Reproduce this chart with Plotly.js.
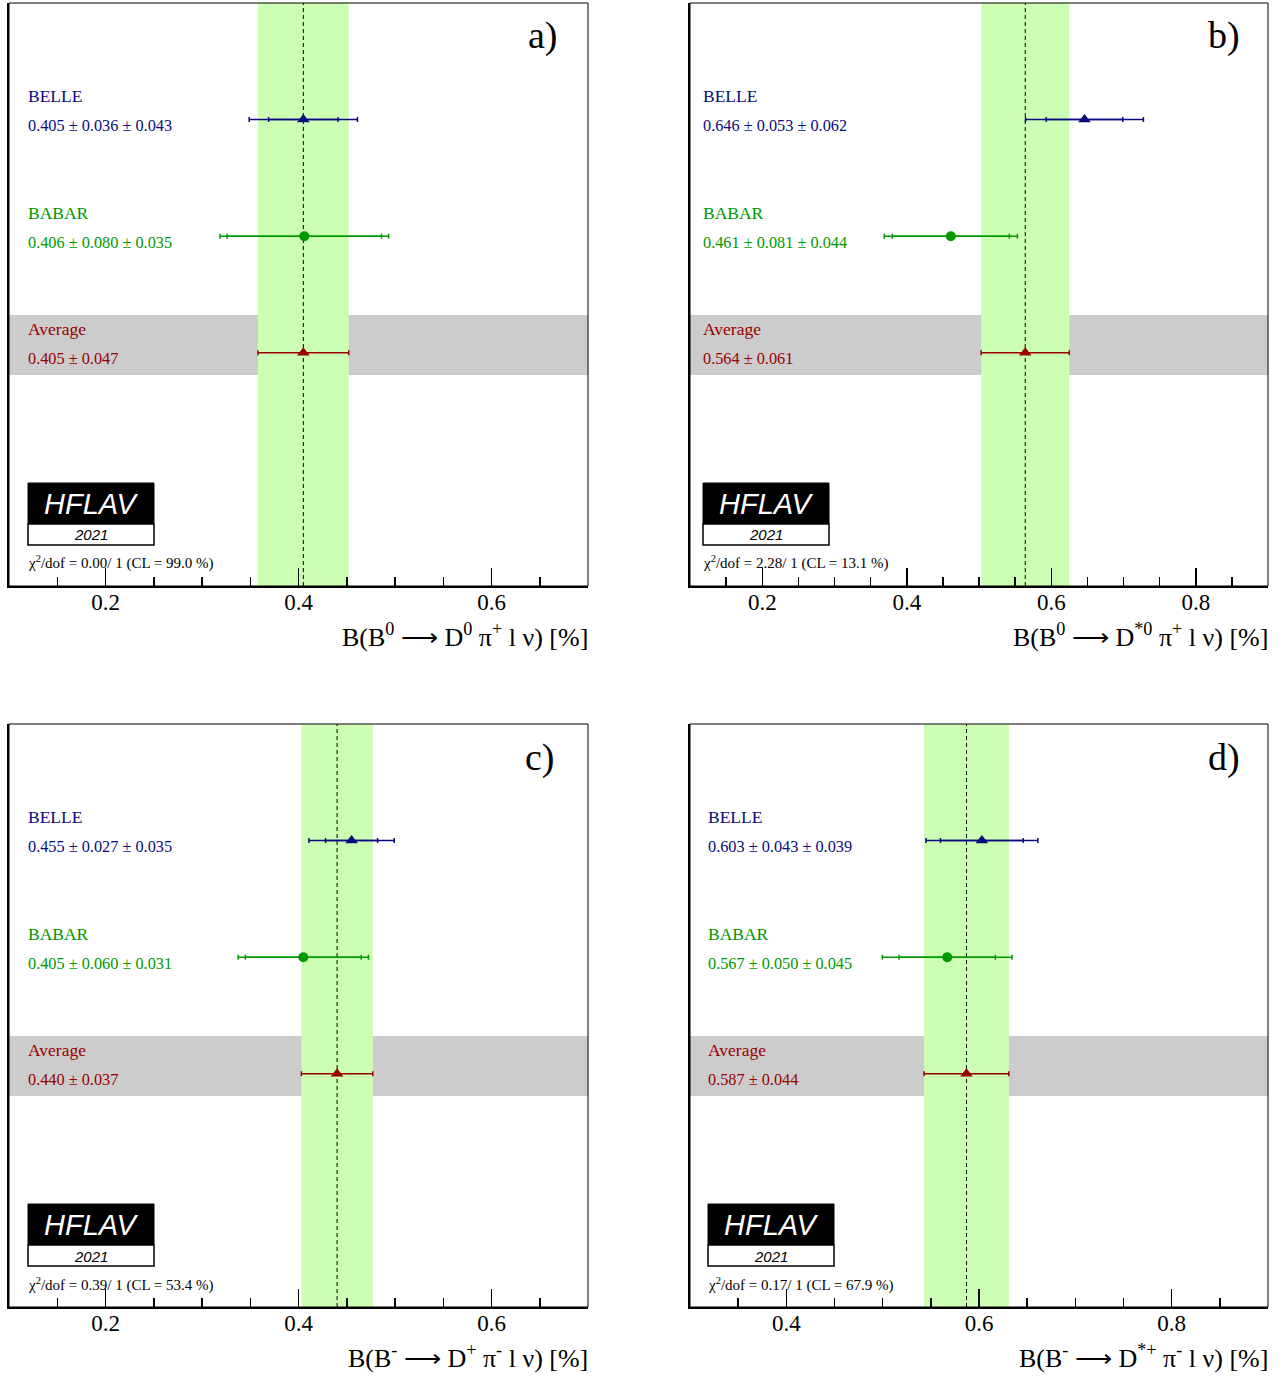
<!DOCTYPE html>
<html>
<head>
<meta charset="utf-8">
<script src="https://cdn.plot.ly/plotly-3.0.1.min.js"></script>
<style>html,body{margin:0;padding:0;background:#fff;}#chart{width:1288px;height:1376px;}</style>
</head>
<body>
<div id="chart"></div>
<script>
// ---- data ----
const panelLabels = ['a)', 'b)', 'c)', 'd)'];
const belleVal  = [0.405, 0.646, 0.455, 0.603];
const belleStat = [0.036, 0.053, 0.027, 0.043];
const belleSyst = [0.043, 0.062, 0.035, 0.039];
const babarVal  = [0.406, 0.461, 0.405, 0.567];
const babarStat = [0.080, 0.081, 0.060, 0.050];
const babarSyst = [0.035, 0.044, 0.031, 0.045];
const avgVal    = [0.405, 0.564, 0.440, 0.587];
const avgErr    = [0.047, 0.061, 0.037, 0.044];
const chi2      = ['0.00', '2.28', '0.39', '0.17'];
const clPct     = ['99.0', '13.1', '53.4', '67.9'];
const xTitles = [
  'B(B<sup>0</sup> \u27f6 D<sup>0</sup> \u03c0<sup>+</sup> l \u03bd) [%]',
  'B(B<sup>0</sup> \u27f6 D<sup>*0</sup> \u03c0<sup>+</sup> l \u03bd) [%]',
  'B(B<sup>-</sup> \u27f6 D<sup>+</sup> \u03c0<sup>-</sup> l \u03bd) [%]',
  'B(B<sup>-</sup> \u27f6 D<sup>*+</sup> \u03c0<sup>-</sup> l \u03bd) [%]'
];
const expNames = ['BELLE', 'BABAR', 'Average'];
const yPos = [0.2, 0.4, 0.6];

// ---- layout geometry ----
const W = 1288, H = 1376;
const xRanges = [[0.1, 0.7], [0.1, 0.9], [0.1, 0.7], [0.3, 0.9]];
const xPix = [[9, 588], [690, 1268], [9, 588], [690, 1268]];
const yPix = [[3, 586], [3, 586], [724, 1307], [724, 1307]];
const labelX = [28, 703, 28, 708];
const cornerX = [560, 1242, 557, 1242];
const titleY = [636, 636, 1356, 1356];

const colBelle = '#0a0a80', colBabar = '#009900', colAvg = '#990000';
const serif = 'Liberation Serif, Times New Roman, serif';

const traces = [];
const layout = {
  width: W, height: H, margin: {l: 0, r: 0, t: 0, b: 0},
  paper_bgcolor: '#fff', plot_bgcolor: '#fff', showlegend: false,
  shapes: [], annotations: [], font: {family: serif, color: '#000'}
};

function tot(a, b) { return Math.sqrt(a * a + b * b); }

for (let i = 0; i < 4; i++) {
  const n = i + 1;
  const xa = 'x' + (n === 1 ? '' : n), ya = 'y' + (n === 1 ? '' : n);
  const xk = 'xaxis' + (n === 1 ? '' : n), yk = 'yaxis' + (n === 1 ? '' : n);
  const pw = xPix[i][1] - xPix[i][0], ph = yPix[i][1] - yPix[i][0];
  const fx = px => (px - xPix[i][0]) / pw;      // absolute page x -> x domain fraction
  const fy = ry => 1 - ry / ph;                 // offset below panel top -> y domain fraction

  layout[xk] = {
    domain: [xPix[i][0] / W, xPix[i][1] / W], anchor: ya, range: xRanges[i],
    dtick: 0.2, tick0: 0, ticks: 'inside', ticklen: 18, tickwidth: 1.5, tickcolor: '#000',
    minor: {dtick: 0.05, tick0: 0, ticks: 'inside', ticklen: 9, tickwidth: 1.5, tickcolor: '#000', showgrid: false},
    showgrid: false, zeroline: false, showline: true, linewidth: 2, linecolor: '#000',
    tickfont: {family: serif, size: 23, color: '#000'}, tickformat: '.1f', ticklabelstandoff: -6, fixedrange: true
  };
  layout[yk] = {
    domain: [1 - yPix[i][1] / H, 1 - yPix[i][0] / H], anchor: xa, range: [1, 0],
    showticklabels: false, ticks: '', showgrid: false, zeroline: false,
    showline: true, linewidth: 2, linecolor: '#000', fixedrange: true
  };

  // gray band for average
  layout.shapes.push({type: 'rect', xref: xa + ' domain', yref: ya, x0: 0, x1: 1, y0: 0.535, y1: 0.638,
    fillcolor: '#cccccc', line: {width: 0}, layer: 'below'});
  // green average band
  layout.shapes.push({type: 'rect', xref: xa, yref: ya + ' domain', x0: avgVal[i] - avgErr[i], x1: avgVal[i] + avgErr[i],
    y0: 0, y1: 1, fillcolor: '#ccffb3', line: {width: 0}, layer: 'below'});
  // dashed average line
  layout.shapes.push({type: 'line', xref: xa, yref: ya + ' domain', x0: avgVal[i], x1: avgVal[i], y0: 0, y1: 1,
    line: {color: '#000', width: 1, dash: '4px,3px'}, layer: 'below'});
  // frame
  layout.shapes.push({type: 'rect', xref: xa + ' domain', yref: ya + ' domain', x0: 0, x1: 1, y0: 0, y1: 1,
    line: {color: '#000', width: 1}, fillcolor: 'rgba(0,0,0,0)', layer: 'above'});

  // HFLAV logo
  layout.shapes.push({type: 'rect', xref: xa + ' domain', yref: ya + ' domain',
    x0: fx(labelX[i]), x1: fx(labelX[i] + 126), y0: fy(521), y1: fy(480),
    fillcolor: '#000', line: {color: '#000', width: 1}, layer: 'above'});
  layout.shapes.push({type: 'rect', xref: xa + ' domain', yref: ya + ' domain',
    x0: fx(labelX[i]), x1: fx(labelX[i] + 126), y0: fy(542), y1: fy(521),
    fillcolor: '#fff', line: {color: '#000', width: 1.5}, layer: 'above'});
  layout.annotations.push({xref: xa + ' domain', yref: ya + ' domain', x: fx(labelX[i] + 63), y: fy(501),
    text: '<i>HFLAV</i>', showarrow: false, xanchor: 'center', yanchor: 'middle',
    font: {family: 'Liberation Sans, Arial, sans-serif', size: 29, color: '#fff'}});
  layout.annotations.push({xref: xa + ' domain', yref: ya + ' domain', x: fx(labelX[i] + 63), y: fy(532),
    text: '<i>2021</i>', showarrow: false, xanchor: 'center', yanchor: 'middle',
    font: {family: 'Liberation Sans, Arial, sans-serif', size: 15, color: '#000'}});
  // chi2 text
  layout.annotations.push({xref: xa + ' domain', yref: ya + ' domain', x: fx(labelX[i]), y: fy(560), xshift: -2,
    text: '\u03c7<sup>2</sup>/dof = ' + chi2[i] + '/ 1 (CL = ' + clPct[i] + ' %)', showarrow: false,
    xanchor: 'left', yanchor: 'middle', font: {family: serif, size: 15, color: '#000'}});
  // panel corner label
  layout.annotations.push({xref: xa + ' domain', yref: ya + ' domain', x: fx(cornerX[i]), y: fy(33),
    text: panelLabels[i], showarrow: false, xanchor: 'right', yanchor: 'middle',
    font: {family: serif, size: 38, color: '#000'}});
  // x axis title
  layout.annotations.push({xref: xa + ' domain', yref: 'paper', x: 1, y: 1 - titleY[i] / H, xshift: 2,
    text: xTitles[i], showarrow: false, xanchor: 'right', yanchor: 'middle',
    font: {family: serif, size: 26, color: '#000'}});

  // measurement labels
  const cols = [colBelle, colBabar, colAvg];
  const valTxt = [
    belleVal[i].toFixed(3) + ' \u00b1 ' + belleStat[i].toFixed(3) + ' \u00b1 ' + belleSyst[i].toFixed(3),
    babarVal[i].toFixed(3) + ' \u00b1 ' + babarStat[i].toFixed(3) + ' \u00b1 ' + babarSyst[i].toFixed(3),
    avgVal[i].toFixed(3) + ' \u00b1 ' + avgErr[i].toFixed(3)
  ];
  for (let k = 0; k < 3; k++) {
    layout.annotations.push({xref: xa + ' domain', yref: ya, x: fx(labelX[i]), y: yPos[k] - 0.04, xshift: -2,
      text: expNames[k], showarrow: false, xanchor: 'left', yanchor: 'middle',
      font: {family: serif, size: 17.5, color: cols[k]}});
    layout.annotations.push({xref: xa + ' domain', yref: ya, x: fx(labelX[i]), y: yPos[k] + 0.01, xshift: -2,
      text: valTxt[k], showarrow: false, xanchor: 'left', yanchor: 'middle',
      font: {family: serif, size: 16.3, color: cols[k]}});
  }

  // stat-only error bars (inner caps)
  traces.push({type: 'scatter', mode: 'markers', xaxis: xa, yaxis: ya,
    x: [belleVal[i]], y: [yPos[0]], marker: {color: 'rgba(0,0,0,0)', size: 1},
    error_x: {type: 'data', array: [belleStat[i]], color: colBelle, thickness: 1.5, width: 2.5}, hoverinfo: 'skip'});
  traces.push({type: 'scatter', mode: 'markers', xaxis: xa, yaxis: ya,
    x: [babarVal[i]], y: [yPos[1]], marker: {color: 'rgba(0,0,0,0)', size: 1},
    error_x: {type: 'data', array: [babarStat[i]], color: colBabar, thickness: 1.5, width: 2.5}, hoverinfo: 'skip'});
  // total error bars with markers
  traces.push({type: 'scatter', mode: 'markers', xaxis: xa, yaxis: ya,
    x: [belleVal[i]], y: [yPos[0]], marker: {color: colBelle, size: 11, symbol: 'triangle-up'},
    error_x: {type: 'data', array: [tot(belleStat[i], belleSyst[i])], color: colBelle, thickness: 1.5, width: 2.5}});
  traces.push({type: 'scatter', mode: 'markers', xaxis: xa, yaxis: ya,
    x: [babarVal[i]], y: [yPos[1]], marker: {color: colBabar, size: 10, symbol: 'circle'},
    error_x: {type: 'data', array: [tot(babarStat[i], babarSyst[i])], color: colBabar, thickness: 1.5, width: 2.5}});
  traces.push({type: 'scatter', mode: 'markers', xaxis: xa, yaxis: ya,
    x: [avgVal[i]], y: [yPos[2]], marker: {color: colAvg, size: 11, symbol: 'triangle-up'},
    error_x: {type: 'data', array: [avgErr[i]], color: colAvg, thickness: 1.5, width: 2.5}});
}

Plotly.newPlot('chart', traces, layout, {displayModeBar: false, staticPlot: true});
</script>
</body>
</html>
